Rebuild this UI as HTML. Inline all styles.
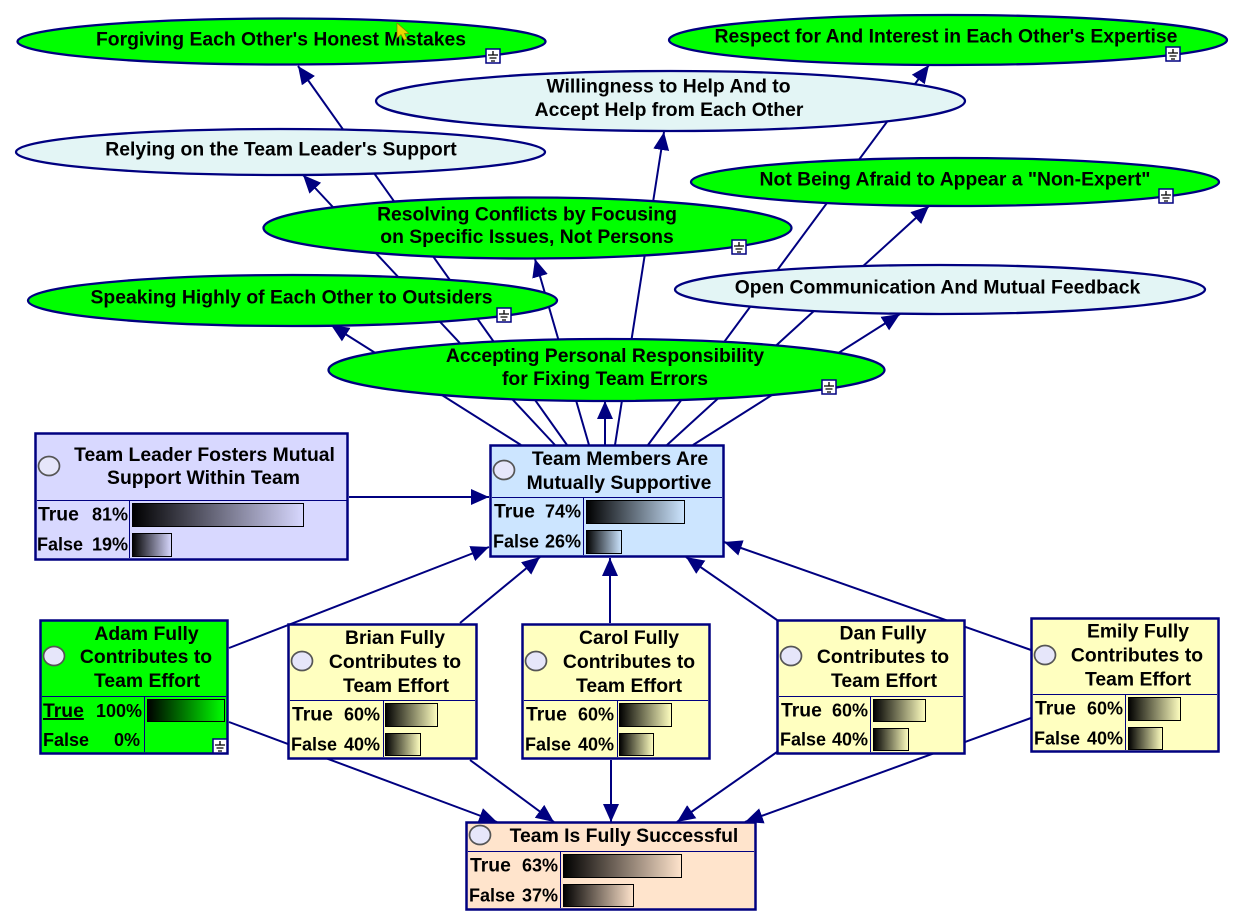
<!DOCTYPE html>
<html><head><meta charset="utf-8"><style>
html,body{margin:0;padding:0;background:#fff;width:1249px;height:921px;overflow:hidden}
svg{display:block}
text{font-family:"Liberation Sans",Arial,sans-serif;font-weight:bold;font-size:19.35px;fill:#000}
text.r{font-size:18px}
.c{text-anchor:middle}.e{text-anchor:end}
.l{stroke:#000080;stroke-width:2;fill:none}
.el{stroke:#000080;stroke-width:2.3}
.b{stroke:#000080;stroke-width:2.5}
.s{stroke:#000080;stroke-width:1}
.bar{stroke:#000;stroke-width:1}
.o{fill:#e6e6fa;stroke:#555;stroke-width:1.7}
</style></head><body>
<svg width="1249" height="921" viewBox="0 0 1249 921" xmlns="http://www.w3.org/2000/svg">
<defs>
<marker id="a" markerUnits="userSpaceOnUse" markerWidth="20" markerHeight="18" refX="18" refY="8" orient="auto"><path d="M0 0L18 8L0 16Z" fill="#000080"/></marker>
<linearGradient id="gL"><stop offset="0" stop-color="#000"/><stop offset="1" stop-color="#d8d8ff"/></linearGradient>
<linearGradient id="gM"><stop offset="0" stop-color="#000"/><stop offset="1" stop-color="#cce5ff"/></linearGradient>
<linearGradient id="gG"><stop offset="0" stop-color="#000"/><stop offset="1" stop-color="#00ff00"/></linearGradient>
<linearGradient id="gY"><stop offset="0" stop-color="#000"/><stop offset="1" stop-color="#ffffc0"/></linearGradient>
<linearGradient id="gS"><stop offset="0" stop-color="#000"/><stop offset="1" stop-color="#ffe4cc"/></linearGradient>
<g id="ic"><rect x="-7" y="-7" width="14" height="14" fill="#fff" stroke="#000080" stroke-width="1.5"/><path d="M0 -5V-1M-5 -1H5M-3.5 2H3.5M-2 5H2" stroke="#000" stroke-width="1.3" fill="none"/></g>
</defs>

<!-- connectors -->
<g class="l">
<line x1="521" y1="445" x2="331" y2="325" marker-end="url(#a)"/>
<line x1="555" y1="445" x2="303" y2="175" marker-end="url(#a)"/>
<line x1="567" y1="445" x2="298" y2="66" marker-end="url(#a)"/>
<line x1="589" y1="445" x2="535" y2="259" marker-end="url(#a)"/>
<line x1="605" y1="445" x2="605" y2="401" marker-end="url(#a)"/>
<line x1="615" y1="445" x2="664" y2="132" marker-end="url(#a)"/>
<line x1="648" y1="445" x2="929" y2="65" marker-end="url(#a)"/>
<line x1="667" y1="445" x2="929" y2="206" marker-end="url(#a)"/>
<line x1="693" y1="445" x2="900" y2="314" marker-end="url(#a)"/>
<line x1="349" y1="497" x2="489" y2="497" marker-end="url(#a)"/>
<line x1="229" y1="648" x2="489" y2="547" marker-end="url(#a)"/>
<line x1="460" y1="623" x2="540" y2="557" marker-end="url(#a)"/>
<line x1="610" y1="623" x2="610" y2="558" marker-end="url(#a)"/>
<line x1="777" y1="620" x2="686" y2="557" marker-end="url(#a)"/>
<line x1="1031" y1="650" x2="724" y2="542" marker-end="url(#a)"/>
<line x1="229" y1="722" x2="497" y2="822" marker-end="url(#a)"/>
<line x1="470" y1="760" x2="554" y2="822" marker-end="url(#a)"/>
<line x1="611" y1="760" x2="611" y2="822" marker-end="url(#a)"/>
<line x1="777" y1="752" x2="677" y2="822" marker-end="url(#a)"/>
<line x1="1031" y1="718" x2="745" y2="822" marker-end="url(#a)"/>
</g>

<!-- ellipses -->
<ellipse class="el" cx="281.500" cy="41.500" rx="264" ry="23" fill="#00ff00"/>
<ellipse class="el" cx="948" cy="40" rx="279" ry="25" fill="#00ff00"/>
<ellipse class="el" cx="670.500" cy="101" rx="294.500" ry="30" fill="#e3f5f5"/>
<ellipse class="el" cx="280.500" cy="152" rx="264.500" ry="23" fill="#e3f5f5"/>
<ellipse class="el" cx="955" cy="182" rx="264" ry="24" fill="#00ff00"/>
<ellipse class="el" cx="527.500" cy="228" rx="264" ry="30.500" fill="#00ff00"/>
<ellipse class="el" cx="940" cy="289.500" rx="265" ry="24.500" fill="#e3f5f5"/>
<ellipse class="el" cx="292.500" cy="300.500" rx="264.500" ry="25.500" fill="#00ff00"/>
<ellipse class="el" cx="606.500" cy="370" rx="278" ry="31" fill="#00ff00"/>

<text class="c" x="281" y="45.500">Forgiving Each Other's Honest Mistakes</text>
<text class="c" x="946" y="42.500">Respect for And Interest in Each Other's Expertise</text>
<text class="c" x="668.500" y="92.500">Willingness to Help And to</text>
<text class="c" x="669" y="116">Accept Help from Each Other</text>
<text class="c" x="281" y="155.500">Relying on the Team Leader's Support</text>
<text class="c" x="955" y="185.500">Not Being Afraid to Appear a "Non-Expert"</text>
<text class="c" x="527" y="220.500">Resolving Conflicts by Focusing</text>
<text class="c" x="527" y="243">on Specific Issues, Not Persons</text>
<text class="c" x="937.500" y="293.500">Open Communication And Mutual Feedback</text>
<text class="c" x="291.500" y="303.500">Speaking Highly of Each Other to Outsiders</text>
<text class="c" x="605" y="362">Accepting Personal Responsibility</text>
<text class="c" x="605" y="385">for Fixing Team Errors</text>

<use href="#ic" x="493" y="56"/>
<use href="#ic" x="1173" y="54"/>
<use href="#ic" x="1166" y="196"/>
<use href="#ic" x="739" y="247"/>
<use href="#ic" x="504" y="315"/>
<use href="#ic" x="829" y="387"/>

<!-- Team Leader -->
<rect class="b" x="35.500" y="433.500" width="312" height="126" fill="#d8d8ff"/>
<path class="s" d="M37 500.500H347M129.500 501V558"/>
<ellipse class="o" cx="49" cy="466" rx="10.500" ry="9.500"/>
<text class="c" x="204.500" y="461">Team Leader Fosters Mutual</text>
<text class="c" x="203.500" y="484">Support Within Team</text>
<rect class="bar" x="132.500" y="503.500" width="171" height="23" fill="url(#gL)"/>
<rect class="bar" x="132.500" y="533.500" width="39" height="23" fill="url(#gL)"/>
<text x="38" y="520.500">True</text><text class="e r" x="128" y="520.500">81%</text>
<text class="r" x="37" y="550.500">False</text><text class="e r" x="128" y="550.500">19%</text>

<!-- Team Members -->
<rect class="b" x="490.500" y="445.500" width="233" height="111" fill="#cce5ff"/>
<path class="s" d="M492 497.500H722M583.500 498V555"/>
<ellipse class="o" cx="504" cy="470" rx="10.500" ry="9.500"/>
<text class="c" x="620" y="465">Team Members Are</text>
<text class="c" x="619" y="489">Mutually Supportive</text>
<rect class="bar" x="586.500" y="500.500" width="98" height="23" fill="url(#gM)"/>
<rect class="bar" x="586.500" y="530.500" width="35" height="23" fill="url(#gM)"/>
<text x="494" y="517.500">True</text><text class="e r" x="581" y="517.500">74%</text>
<text class="r" x="493" y="547.500">False</text><text class="e r" x="581" y="547.500">26%</text>

<!-- Adam -->
<rect class="b" x="40.500" y="620.500" width="187" height="133" fill="#00ff00"/>
<path class="s" d="M42 696.500H226M144.500 697V752"/>
<ellipse class="o" cx="54" cy="656" rx="10.500" ry="9.500"/>
<text class="c" x="146.500" y="640">Adam Fully</text>
<text class="c" x="146" y="663">Contributes to</text>
<text class="c" x="147" y="687">Team Effort</text>
<rect class="bar" x="147.500" y="699.500" width="77" height="22" fill="url(#gG)"/>
<text x="43" y="717" text-decoration="underline">True</text><text class="e r" x="142" y="717">100%</text>
<text class="r" x="43" y="746">False</text><text class="e r" x="140" y="746">0%</text>
<use href="#ic" x="220" y="746"/>

<!-- Brian -->
<rect class="b" x="288.500" y="624.500" width="188" height="134" fill="#ffffc0"/>
<path class="s" d="M290 700.500H475M383.500 701V757"/>
<ellipse class="o" cx="302" cy="661" rx="10.500" ry="9.500"/>
<text class="c" x="395" y="644">Brian Fully</text>
<text class="c" x="395" y="668">Contributes to</text>
<text class="c" x="396" y="692">Team Effort</text>
<rect class="bar" x="385.500" y="703.500" width="52" height="23" fill="url(#gY)"/>
<rect class="bar" x="385.500" y="733.500" width="35" height="22" fill="url(#gY)"/>
<text x="292" y="720.500">True</text><text class="e r" x="380" y="720.500">60%</text>
<text class="r" x="291" y="750.500">False</text><text class="e r" x="380" y="750.500">40%</text>

<!-- Carol -->
<rect class="b" x="522.500" y="624.500" width="187" height="134" fill="#ffffc0"/>
<path class="s" d="M524 700.500H708M617.500 701V757"/>
<ellipse class="o" cx="536" cy="661" rx="10.500" ry="9.500"/>
<text class="c" x="629" y="644">Carol Fully</text>
<text class="c" x="629" y="668">Contributes to</text>
<text class="c" x="629" y="692">Team Effort</text>
<rect class="bar" x="619.500" y="703.500" width="52" height="23" fill="url(#gY)"/>
<rect class="bar" x="619.500" y="733.500" width="34" height="22" fill="url(#gY)"/>
<text x="526" y="720.500">True</text><text class="e r" x="614" y="720.500">60%</text>
<text class="r" x="525" y="750.500">False</text><text class="e r" x="614" y="750.500">40%</text>

<!-- Dan -->
<rect class="b" x="777.500" y="620.500" width="187" height="133" fill="#ffffc0"/>
<path class="s" d="M779 696.500H963M870.500 697V752"/>
<ellipse class="o" cx="791" cy="656" rx="10.500" ry="9.500"/>
<text class="c" x="883" y="639.500">Dan Fully</text>
<text class="c" x="883" y="663">Contributes to</text>
<text class="c" x="884" y="687">Team Effort</text>
<rect class="bar" x="873.500" y="699.500" width="52" height="22" fill="url(#gY)"/>
<rect class="bar" x="873.500" y="728.500" width="35" height="22" fill="url(#gY)"/>
<text x="781" y="716.500">True</text><text class="e r" x="868" y="716.500">60%</text>
<text class="r" x="780" y="745.500">False</text><text class="e r" x="868" y="745.500">40%</text>

<!-- Emily -->
<rect class="b" x="1031.500" y="618.500" width="187" height="133" fill="#ffffc0"/>
<path class="s" d="M1033 694.500H1217M1125.500 695V750"/>
<ellipse class="o" cx="1045" cy="655" rx="10.500" ry="9.500"/>
<text class="c" x="1138" y="637.500">Emily Fully</text>
<text class="c" x="1137" y="661.500">Contributes to</text>
<text class="c" x="1138" y="685.500">Team Effort</text>
<rect class="bar" x="1128.500" y="697.500" width="52" height="23" fill="url(#gY)"/>
<rect class="bar" x="1128.500" y="727.500" width="34" height="22" fill="url(#gY)"/>
<text x="1035" y="714.500">True</text><text class="e r" x="1123" y="714.500">60%</text>
<text class="r" x="1034" y="744.500">False</text><text class="e r" x="1123" y="744.500">40%</text>

<!-- Success -->
<rect class="b" x="466.500" y="822.500" width="289" height="87" fill="#ffe4cc"/>
<path class="s" d="M468 851.500H754M560.500 852V908"/>
<ellipse class="o" cx="480" cy="835" rx="10.500" ry="9.500"/>
<text class="c" x="624" y="842">Team Is Fully Successful</text>
<rect class="bar" x="563.500" y="854.500" width="118" height="23" fill="url(#gS)"/>
<rect class="bar" x="563.500" y="884.500" width="70" height="22" fill="url(#gS)"/>
<text x="470" y="871.500">True</text><text class="e r" x="558" y="871.500">63%</text>
<text class="r" x="469" y="901.500">False</text><text class="e r" x="558" y="901.500">37%</text>

<!-- cursor -->
<path d="M397 23L397 38L401 34.500L404 40L407 39L404.500 33.500L409 33.500Z" fill="#e8d800" stroke="#8a7a00" stroke-width="0.7"/>
</svg>
</body></html>
